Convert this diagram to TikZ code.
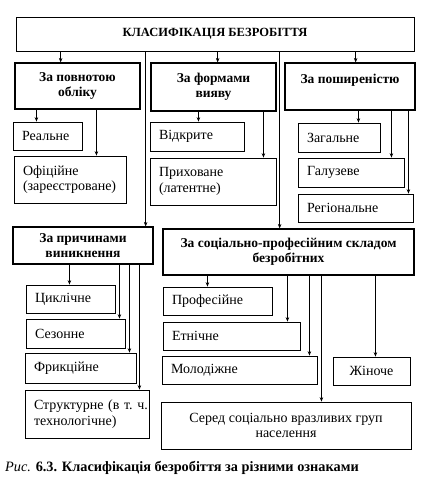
\documentclass[tikz,border=0pt]{standalone}
\usepackage{fontspec}
\setmainfont{Liberation Serif}
\usetikzlibrary{arrows.meta}
\begin{document}
\begin{tikzpicture}[x=1pt,y=-1pt,
  leaf/.style={draw, line width=0.7pt, inner xsep=9pt, inner ysep=0pt, align=left,
    font=\fontsize{14}{15.5}\selectfont},
  cleaf/.style={draw, line width=0.7pt, inner xsep=4pt, inner ysep=0pt, align=center,
    font=\fontsize{14}{15.5}\selectfont},
  cat/.style={draw, line width=1.1pt, inner sep=0pt, align=center,
    font=\bfseries\fontsize{13.5}{15}\selectfont},
  arr/.style={line width=0.6pt, -{Stealth[length=4.5pt,width=3.5pt]}}]
\useasboundingbox (0,0) rectangle (431,489);

% top
\node[draw, line width=0.7pt, minimum width=398, minimum height=34, inner sep=0pt,
  font=\bfseries\fontsize{12.5}{14}\selectfont] (top) at (215,34) {КЛАСИФІКАЦІЯ БЕЗРОБІТТЯ};

% categories
\node[cat, minimum width=125, minimum height=46] (povn) at (77.5,86) {За повнотою\\обліку};
\node[cat, minimum width=125, minimum height=48] (form) at (213.5,87) {За формами\\вияву};
\node[cat, minimum width=130, minimum height=47] (posh) at (350,86.5) {За поширеністю\\\mbox{}};
\node[cat, minimum width=140, minimum height=37] (prych) at (83,245.5) {За причинами\\виникнення};
\node[cat, minimum width=251, minimum height=46] (sots) at (288.5,252) {За соціально-професійним складом\\безробітних};

% leaves
\node[leaf, minimum width=69, minimum height=28, text width=51] (real) at (47.5,136) {Реальне};
\node[leaf, minimum width=112, minimum height=47, text width=94] (ofic) at (70,179.5) {Офіційне\\(зареєстроване)};
\node[leaf, minimum width=94, minimum height=29, text width=76] (vidk) at (197,136.5) {Відкрите};
\node[leaf, minimum width=126, minimum height=47, text width=108] (prykh) at (213,181.5) {Приховане\\(латентне)};
\node[leaf, minimum width=82, minimum height=29, text width=64] (zah) at (339,137.5) {Загальне};
\node[leaf, minimum width=106, minimum height=29, text width=88] (haluz) at (351,172.5) {Галузеве};
\node[leaf, minimum width=115, minimum height=28, text width=97] (reh) at (355.5,208) {Регіональне};
\node[leaf, minimum width=89, minimum height=28, text width=71] (tsykl) at (70.5,299) {Циклічне};
\node[leaf, minimum width=99, minimum height=29, text width=81] (sez) at (75.5,333.5) {Сезонне};
\node[leaf, minimum width=111, minimum height=30, text width=93] (fryk) at (80.5,368) {Фрикційне};
\node[leaf, minimum width=124, minimum height=48, text width=106] (strukt) at (87,414) {\mbox{Структурне (в т.\ ч.}\\технологічне)};
\node[leaf, minimum width=109, minimum height=28, text width=91] (prof) at (217.5,301) {Професійне};
\node[leaf, minimum width=137, minimum height=28, text width=119] (etn) at (231.5,336) {Етнічне};
\node[leaf, minimum width=155, minimum height=28, text width=137] (molod) at (239.5,370) {Молодіжне};
\node[cleaf, minimum width=77, minimum height=28] (zhin) at (371.5,371) {Жіноче};
\node[cleaf, minimum width=250, minimum height=47] (sered) at (286,425.5) {Серед соціально вразливих груп\\населення};

% connectors from top
\foreach \dx/\t in {45/povn,130/prych,202/form,264/sots,340/posh}
  \draw[arr] ([xshift=\dx pt]top.south west) -- ([xshift=\dx pt]top.south west |- \t.north);
% povn
\foreach \dx/\t in {22/real,82/ofic}
  \draw[arr] ([xshift=\dx pt]povn.south west) -- ([xshift=\dx pt]povn.south west |- \t.north);
% form
\foreach \dx/\t in {48/vidk,113/prykh}
  \draw[arr] ([xshift=\dx pt]form.south west) -- ([xshift=\dx pt]form.south west |- \t.north);
% posh
\foreach \dx/\t in {74/zah,107/haluz,124/reh}
  \draw[arr] ([xshift=\dx pt]posh.south west) -- ([xshift=\dx pt]posh.south west |- \t.north);
% prych
\foreach \dx/\t in {57/tsykl,107/sez,117/fryk,127/strukt}
  \draw[arr] ([xshift=\dx pt]prych.south west) -- ([xshift=\dx pt]prych.south west |- \t.north);
% sots
\foreach \dx/\t in {45/prof,125/etn,147/molod,159/sered,213/zhin}
  \draw[arr] ([xshift=\dx pt]sots.south west) -- ([xshift=\dx pt]sots.south west |- \t.north);

% caption
\node[anchor=west, inner sep=0pt, font=\fontsize{14.3}{16}\selectfont] (cap) at (5,468)
  {\textit{Рис.} \textbf{6.3. Класифікація безробіття за різними ознаками}};
\end{tikzpicture}
\end{document}
